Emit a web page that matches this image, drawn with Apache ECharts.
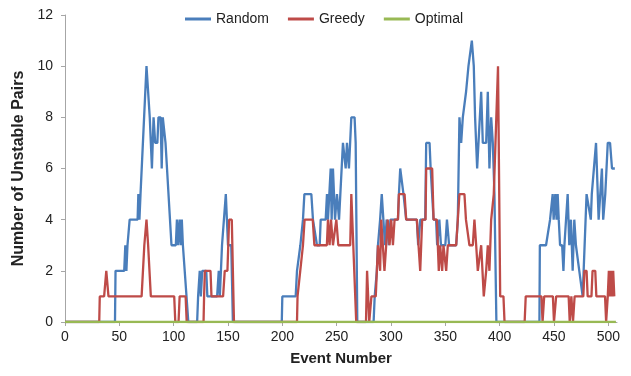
<!DOCTYPE html>
<html>
<head>
<meta charset="utf-8">
<script src="https://cdn.jsdelivr.net/npm/echarts@6/dist/echarts.min.js"></script>
<style>
  html, body { margin: 0; padding: 0; background: #fff; }
  #chart { width: 631px; height: 376px; }
</style>
</head>
<body>
<div id="chart"></div>
<script>
// 图例名称
const seriesNames = ['Random', 'Greedy', 'Optimal'];

// x 轴刻度
const xTicks = [0, 50, 100, 150, 200, 250, 300, 350, 400, 450, 500];

// Random: [事件编号, 不稳定对数]
const randomPoints = [
  [0,0],[46,0],[46.5,2],[54.5,2],[55.5,3],[56.5,2],[57.5,3],[58.2,3],[59.5,4],[66.8,4],[67.5,5],[68.5,4],
  [69.5,5],[70.5,5],[75,10],[76,10],[78,8],[80,6],[81.5,8],[83,7],[85,7],[86,8],[88,8],[89,6],[90,8],
  [91.5,8],[92.5,7],[93.5,7],[98,3],[102,3],[103,4],[104,3],[105.5,4],[106.5,3],[107.5,4],[108.5,3],
  [109.5,3],[113.5,0],[121.6,0],[122.5,1],[124,2],[125,1],[126.3,2],[130,2],[131,1],[140,1],[141.5,2],
  [142.5,1],[144.5,3],[146,3],[148,5],[150,3],[153,3],[154.5,0],[199.5,0],[200,1],[212.3,1],[213.5,2],
  [215,2],[216.6,3],[218,3],[219,4],[220.3,5],[226.7,5],[228.2,4],[231.9,3],[234.4,3],[235.3,4],
  [239.9,4],[241.1,5],[242,4],[244.5,6],[245.4,4],[246.6,6],[248.5,4],[250.3,5],[252.2,4],[253.7,4],
  [255.8,7],[258.3,6],[259.5,7],[261.3,6],[263.5,8],[266.5,8],[267.5,7],[269,0],[284,0],[285,1],
  [287,2],[288,3],[290,4],[291.5,5],[293,4],[294.5,3],[296,4],[298,3],[299.5,4],[306.4,4],[307.3,5],
  [308.5,6],[310.3,6],[311.5,5],[312.5,5],[314,4],[323.8,4],[325,3],[327,4],[331.5,4],[332.4,7],
  [335.5,7],[336.5,6],[338,6],[339.2,4],[341.5,4],[342.5,3],[344.5,4],[346,3],[350,3],[351.5,4],
  [353.5,3],[360,3],[361.5,4],[363,8],[364.6,7],[366.1,8],[369.1,9],[370.7,9],[371.3,10],[374.4,11],
  [376.2,10],[377.4,8],[379.3,6],[383,9],[384.5,7],[387.6,7],[389.1,9],[390.6,6],[392.2,8],[393.7,7],
  [395.2,5],[397,0],[436.6,0],[437,3],[442.7,3],[446.4,4],[448.8,5],[449.7,4],[451.2,5],[452.4,4],
  [453.4,5],[454.4,4],[455.6,3],[457.5,3],[458.7,2],[459.6,3],[462.6,5],[464.1,3],[465.6,4],[467.2,2],
  [468.7,4],[470.2,3],[473.3,2],[476.4,1],[480,5],[483.9,4],[484.8,5],[488.7,7],[491.1,4],[494.1,6],
  [495.3,4],[497.2,5],[499.5,7],[501.6,7],[503.4,6],[506,6]
];

// Greedy
const greedyPoints = [
  [0,0],[31.5,0],[32,1],[36,1],[38,2],[40,1],[70.5,1],[73,3],[75,4],[76.5,3],[79,1],[100.5,1],[101.5,0],
  [104.5,0],[105.5,1],[111,1],[112,0],[127.5,0],[128,1],[128.7,2],[133.9,2],[134.8,1],[145.5,1],[147,2],
  [149.5,2],[151,4],[153.5,4],[155.5,0],[213.5,0],[214,1],[215.5,1],[216.5,2],[218,2],[219,3],[220,3],
  [220.5,4],[228,4],[229.5,3],[241,3],[242,4],[243.5,3],[244.8,4],[246.6,3],[249.7,4],[251.5,3],
  [262.5,3],[263.5,5],[265,5],[268,0],[277,0],[278,2],[280,0],[282,1],[286,1],[288,3],[290,2],[291,4],
  [294,2],[295.6,3],[297,4],[298.7,3],[300.2,4],[301.8,3],[303.3,4],[306.4,4],[307.3,5],[312.5,5],
  [314,4],[323.8,4],[326.9,2],[328.7,4],[331.8,4],[332.4,6],[337.9,6],[339.2,4],[342.2,4],[344,2],
  [345.3,3],[347.1,2],[348.3,3],[350.8,2],[352.3,3],[360,3],[361.5,4],[363,5],[367.6,5],[369,4],
  [370.7,4],[372.2,3],[375.3,3],[376.8,4],[378.4,3],[379.9,2],[381.4,2],[383,3],[385.4,1],[387.6,2],
  [389.1,3],[390.6,2],[392.2,4],[394.6,5],[395.8,5],[398.5,10],[400.5,1],[403.5,1],[404.5,0],[423,0],
  [424,1],[438.5,1],[439.5,0],[441,1],[449,1],[450,0],[452,1],[463.5,1],[464.5,0],[466,1],[467.5,0],
  [469,1],[477,1],[478,2],[480,2],[481,1],[484.5,1],[485.5,2],[488,2],[489,1],[497,1],[498,0],
  [499.5,1],[500.5,2],[501.5,1],[502.5,2],[503.5,1],[504.5,2],[505.5,1]
];

// Optimal 始终为 0
const optimalPoints = [[0,0],[507,0]];

const colors = ['#4a7ebb', '#be4b48', '#98b954'];

const chart = echarts.init(document.getElementById('chart'));

const option = {
  animation: false,
  color: colors,
  textStyle: { fontFamily: 'Liberation Sans, Arial, sans-serif' },
  legend: {
    data: seriesNames,
    left: 180,
    top: 7,
    itemWidth: 26,
    itemHeight: 3,
    itemGap: 19,
    icon: 'rect',
    textStyle: { fontSize: 14, color: '#222' }
  },
  grid: { left: 65, right: 14, top: 15, bottom: 54 },
  xAxis: {
    type: 'value',
    min: 0,
    max: 508,
    name: 'Event Number',
    nameLocation: 'middle',
    nameGap: 29,
    nameTextStyle: { fontSize: 15, fontWeight: 'bold', color: '#222' },
    axisLine: { show: true, lineStyle: { color: '#a6a6a6' } },
    axisTick: { show: true, length: 4, lineStyle: { color: '#a6a6a6' }, customValues: xTicks },
    axisLabel: { fontSize: 14, color: '#222', margin: 8, customValues: xTicks },
    splitLine: { show: false }
  },
  yAxis: {
    type: 'value',
    min: 0,
    max: 12,
    interval: 2,
    name: 'Number of Unstable Pairs',
    nameLocation: 'middle',
    nameGap: 35,
    nameTextStyle: { fontSize: 16, fontWeight: 'bold', color: '#222' },
    axisLine: { show: true, lineStyle: { color: '#a6a6a6' } },
    axisTick: { show: true, length: 4, lineStyle: { color: '#a6a6a6' } },
    axisLabel: { fontSize: 14, color: '#222', margin: 12 },
    splitLine: { show: false }
  },
  series: [
    { name: 'Random', type: 'line', data: randomPoints, showSymbol: false, lineStyle: { width: 2.3 } },
    { name: 'Greedy', type: 'line', data: greedyPoints, showSymbol: false, lineStyle: { width: 2.3 } },
    { name: 'Optimal', type: 'line', data: optimalPoints, showSymbol: false, lineStyle: { width: 2.5 } }
  ]
};

chart.setOption(option);
</script>
</body>
</html>
